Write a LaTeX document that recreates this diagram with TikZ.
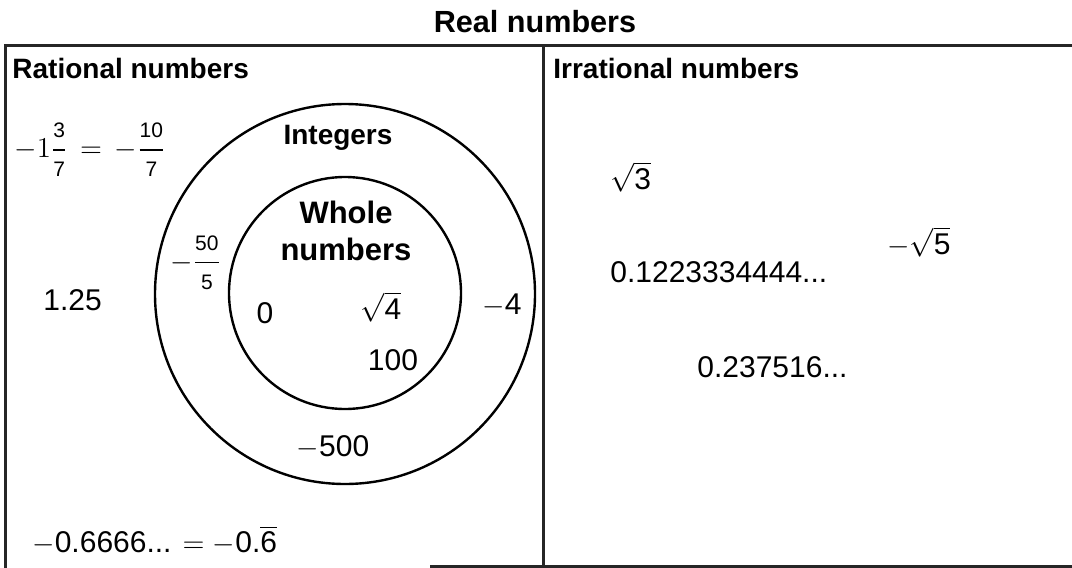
\documentclass[tikz,border=0pt]{standalone}
\usepackage{amsmath}
\usepackage{fontspec}
\setmainfont{Liberation Sans}
\newcommand\smallnum[1]{\mbox{\fontsize{10.5}{12}\selectfont #1}}
\newcommand\sfr[2]{\dfrac{\smallnum{#1}}{\smallnum{#2}}}
\begin{document}
\begin{tikzpicture}[x=0.5pt,y=-0.5pt,
  frame/.style={line width=1.5pt, draw=black!85},
  ring/.style={draw, line width=1.2pt},
  hdr/.style={font=\bfseries\fontsize{14}{17}\selectfont, inner sep=0pt},
  num/.style={font=\fontsize{15}{18}\selectfont, inner sep=0pt}]
\useasboundingbox (0,0) rectangle (1072,568);
% frame
\coordinate (tl) at (5,45);
\coordinate (tr) at (1072,45);
\coordinate (bl) at (5,568);
\coordinate (dt) at (543,45);
\coordinate (db) at (543,568);
\coordinate (bm) at (430,566);
\coordinate (br) at (1072,566);
\draw[frame] (bl) -- (tl) -- (tr);
\draw[frame] (dt) -- (db);
\draw[frame] (bm) -- (br);
% headings
\node[hdr, font=\bfseries\fontsize{15.3}{18}\selectfont] (title) at (535,22) {Real numbers};
\node[hdr, anchor=west] (rat) at (12,68) {Rational numbers};
\node[hdr, anchor=west] (irr) at (553,68) {Irrational numbers};
% circles
\coordinate (intc) at (345,294);
\coordinate (whc) at (345,293);
\draw[ring] (intc) circle[radius=95pt];
\draw[ring] (whc) circle[radius=58pt];
\node[hdr] (ints) at (338,138) {Integers};
\node[hdr, align=center, font=\bfseries\fontsize{15.5}{18.5}\selectfont] (whole) at (346,231) {Whole\\numbers};
% rational values
\node[num, anchor=west] (f1) at (14,150) {$-1\sfr{3}{7}\,=\,-\sfr{10}{7}$};
\node[num, anchor=west] (f50) at (170,263) {$-\sfr{50}{5}$};
\node[num, anchor=west] (n125) at (43,300) {1.25};
\node[num] (n0) at (265,313) {0};
\node[num] (sq4) at (381,307) {$\sqrt{\text{4}}$};
\node[num, anchor=west] (m4) at (482,305) {$-$4};
\node[num] (n100) at (393,360) {100};
\node[num] (m500) at (333,447) {$-$500};
\node[num, anchor=west] (rep) at (32,540) {$-$0.6666... $=$ $-$0.$\overline{\text{6}}$};
% irrational values
\node[num, anchor=west] (sq3) at (610,177) {$\sqrt{\text{3}}$};
\node[num, anchor=west] (msq5) at (887,242) {$-\sqrt{\text{5}}$};
\node[num, anchor=west] (n122) at (610,272) {0.1223334444...};
\node[num, anchor=west] (n237) at (697,367) {0.237516...};
\end{tikzpicture}
\end{document}
